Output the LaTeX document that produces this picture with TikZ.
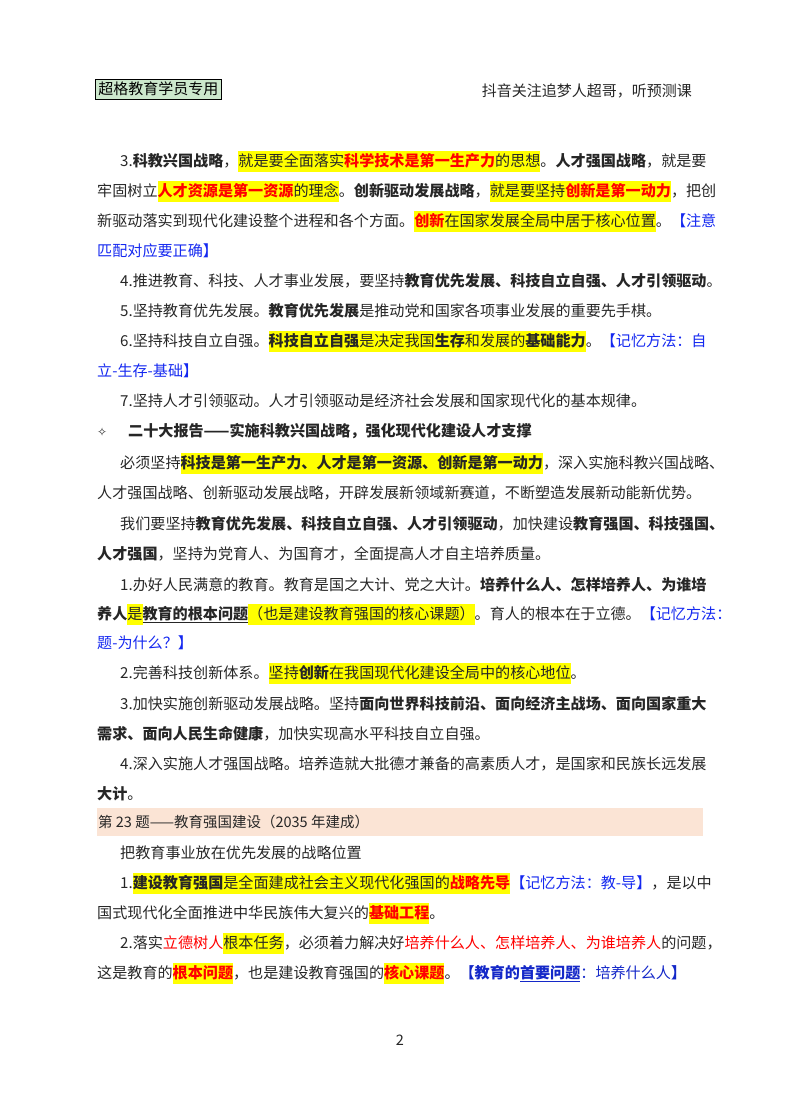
\documentclass[tikz,border=0pt]{standalone}
\usepackage{fontspec}
\setmainfont{Noto Sans CJK SC}
\newfontfamily\dejavu{DejaVu Sans}
\definecolor{hlY}{RGB}{255,255,0}
\definecolor{rd}{RGB}{255,0,0}
\definecolor{bl}{RGB}{20,40,240}
\definecolor{dbl}{RGB}{20,40,200}
\definecolor{band}{RGB}{251,228,213}
\definecolor{hdr}{RGB}{204,232,204}
\newcommand\hy[1]{{\setlength\fboxsep{0pt}\colorbox{hlY}{\rule[-6pt]{0pt}{21pt}#1}}}
\newcommand\rb[1]{\textcolor{rd}{\bfseries #1}}
\newcommand\bfx[1]{{\bfseries #1}}
\newcommand\blx[1]{\textcolor{bl}{#1}}
\begin{document}
\begin{tikzpicture}[x=1pt,y=1pt,
  ln/.style={anchor=base west, inner sep=0pt, font=\fontsize{15.1}{16}\selectfont, text=black!85},
  sm/.style={anchor=base west, inner sep=0pt, font=\fontsize{14.5}{15}\selectfont, text=black!85}]
\useasboundingbox (0,0) rectangle (800,-1114);
\fill[band] (97,-808) rectangle (703,-836);
\node[draw, fill=hdr, line width=0.8pt, inner xsep=3pt, inner ysep=3pt, anchor=west, font=\fontsize{15}{16}\selectfont] (hd) at (95,-89) {超格教育学员专用};
\node[sm, anchor=base east, font=\fontsize{15}{16}\selectfont] (hr) at (692,-96) {抖音关注追梦人超哥，听预测课};
\node[ln] (a1) at (120,-166) {3.\bfx{科教兴国战略}，\hy{就是要全面落实\rb{科学技术是第一生产力}的思想}。\bfx{人才强国战略}，就是要};
\node[ln] (a2) at (97,-196) {牢固树立\hy{\rb{人才资源是第一资源}的理念}。\bfx{创新驱动发展战略}，\hy{就是要坚持\rb{创新是第一动力}}，把创};
\node[ln] (a3) at (97,-226) {新驱动落实到现代化建设整个进程和各个方面。\hy{\rb{创新}在国家发展全局中居于核心位置}。\blx{【注意}};
\node[ln] (a4) at (97,-256) {\blx{匹配对应要正确】}};
\node[ln] (a5) at (120,-286) {4.推进教育、科技、人才事业发展，要坚持\bfx{教育优先发展、科技自立自强、人才引领驱动}。};
\node[ln] (a6) at (120,-316) {5.坚持教育优先发展。\bfx{教育优先发展}是推动党和国家各项事业发展的重要先手棋。};
\node[ln] (a7) at (120,-346) {6.坚持科技自立自强。\hy{\bfx{科技自立自强}是决定我国\bfx{生存}和发展的\bfx{基础能力}}。\blx{【记忆方法：自}};
\node[ln] (a8) at (97,-376) {\blx{立-生存-基础】}};
\node[ln] (a9) at (120,-406) {7.坚持人才引领驱动。人才引领驱动是经济社会发展和国家现代化的基本规律。};
\node[ln] (dm) at (97,-436) {\dejavu\fontsize{12}{12}\selectfont ✧};
\node[ln] (b0) at (128,-436) {\bfx{二十大报告——实施科教兴国战略，强化现代化建设人才支撑}};
\node[ln] (b1) at (120,-468) {必须坚持\hy{\bfx{科技是第一生产力、人才是第一资源、创新是第一动力}}，深入实施科教兴国战略、};
\node[ln] (b2) at (97,-498) {人才强国战略、创新驱动发展战略，开辟发展新领域新赛道，不断塑造发展新动能新优势。};
\node[ln] (b3) at (120,-529) {我们要坚持\bfx{教育优先发展、科技自立自强、人才引领驱动}，加快建设\bfx{教育强国、科技强国、}};
\node[ln] (b4) at (97,-559) {\bfx{人才强国}，坚持为党育人、为国育才，全面提高人才自主培养质量。};
\node[ln] (b5) at (120,-590) {1.办好人民满意的教育。教育是国之大计、党之大计。\bfx{培养什么人、怎样培养人、为谁培}};
\node[ln] (b6) at (97,-619) {\bfx{养人}\hy{是}\bfx{\underline{教育的根本问题}}\hy{（也是建设教育强国的核心课题）}。育人的根本在于立德。\blx{【记忆方法：}};
\node[ln] (b7) at (97,-648) {\blx{题-为什么？】}};
\node[ln] (b8) at (120,-678) {2.完善科技创新体系。\hy{坚持\bfx{创新}在我国现代化建设全局中的核心地位}。};
\node[ln] (c1) at (120,-709) {3.加快实施创新驱动发展战略。坚持\bfx{面向世界科技前沿、面向经济主战场、面向国家重大}};
\node[ln] (c2) at (97,-739) {\bfx{需求、面向人民生命健康}，加快实现高水平科技自立自强。};
\node[ln] (c3) at (120,-769) {4.深入实施人才强国战略。培养造就大批德才兼备的高素质人才，是国家和民族长远发展};
\node[ln] (c4) at (97,-799) {\bfx{大计}。};
\node[sm] (c5) at (98,-827) {第 23 题——教育强国建设（2035 年建成）};
\node[ln] (d0) at (120,-858) {把教育事业放在优先发展的战略位置};
\node[ln] (d1) at (120,-888) {1.\hy{\bfx{建设教育强国}是全面建成社会主义现代化强国的\rb{战略先导}}\blx{【记忆方法：教-导】}，是以中};
\node[ln] (d2) at (97,-918) {国式现代化全面推进中华民族伟大复兴的\hy{\rb{基础工程}}。};
\node[ln] (d3) at (120,-948) {2.落实\textcolor{rd}{立德树人}\hy{根本任务}，必须着力解决好\textcolor{rd}{培养什么人、怎样培养人、为谁培养人}的问题，};
\node[ln] (d4) at (97,-978) {这是教育的\hy{\rb{根本问题}}，也是建设教育强国的\hy{\rb{核心课题}}。\textcolor{dbl}{{\bfseries【教育的\underline{首要问题}}：培养什么人{\bfseries】}}};
\node[sm, anchor=base] (pg) at (400,-1045) {2};
\end{tikzpicture}
\end{document}
